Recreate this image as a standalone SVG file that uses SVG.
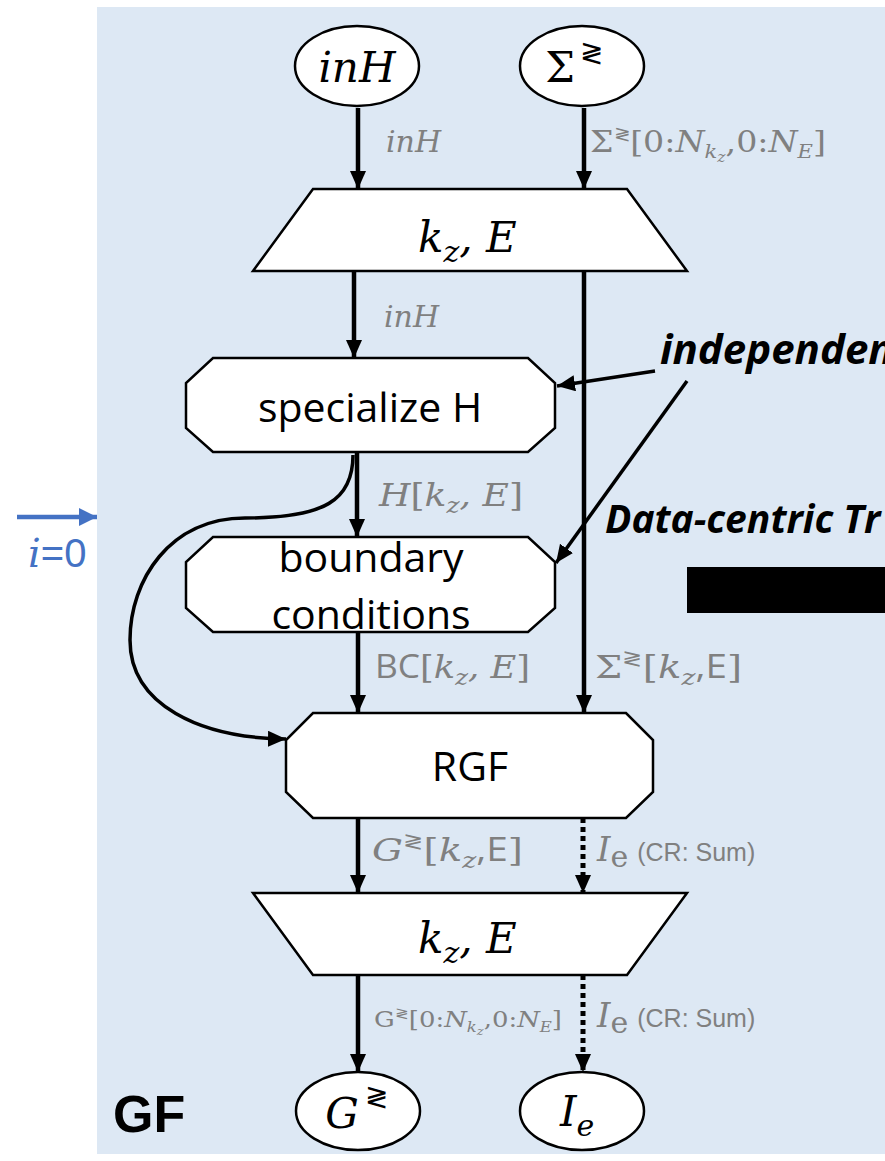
<svg xmlns="http://www.w3.org/2000/svg" width="885" height="1161" viewBox="0 0 885 1161">
<style>
.node{fill:#fff;stroke:#000;stroke-width:2.5}
.conn{fill:none;stroke:#000;stroke-width:4.5}
.dot{fill:none;stroke:#000;stroke-width:5;stroke-dasharray:5 4}
.thin{fill:none;stroke:#000;stroke-width:3.5}
.m{font-family:"DejaVu Serif","Liberation Serif",serif;font-style:italic}
.u{font-family:"DejaVu Serif","Liberation Serif",serif;font-style:normal}
.s{font-family:"Open Sans","Liberation Sans",sans-serif}
.a{font-family:"Liberation Sans",Arial,sans-serif}
.g{fill:#808080}
.k{fill:#000}
</style>
<defs>
<marker id="ah" markerUnits="userSpaceOnUse" markerWidth="20" markerHeight="18" refX="18" refY="8" orient="auto"><path d="M0,0 L18,8 L0,16 z" fill="#000"/></marker>
<marker id="ahb" markerUnits="userSpaceOnUse" markerWidth="20" markerHeight="20" refX="18" refY="9" orient="auto"><path d="M0,0 L18,9 L0,18 z" fill="#4472c4"/></marker>
</defs>
<rect x="97" y="7" width="788" height="1147" fill="#dde8f4"/>

<g id="connectors">
<line class="conn" x1="358" y1="108" x2="358" y2="189" marker-end="url(#ah)"/>
<line class="conn" x1="584" y1="108" x2="584" y2="189" marker-end="url(#ah)"/>
<line class="conn" x1="354" y1="271" x2="354" y2="358" marker-end="url(#ah)"/>
<line class="conn" x1="584" y1="271" x2="584" y2="713" marker-end="url(#ah)"/>
<line class="conn" x1="357" y1="452" x2="357" y2="537" marker-end="url(#ah)"/>
<line class="conn" x1="358" y1="632" x2="358" y2="713" marker-end="url(#ah)"/>
<path class="thin" d="M353,455 C353,500 325,518 245,518 C170,518 130,580 130,640 C130,705 200,738 286,739" marker-end="url(#ah)"/>
<line class="conn" x1="358" y1="818" x2="358" y2="893" marker-end="url(#ah)"/>
<line class="dot" x1="583" y1="818" x2="583" y2="893" marker-end="url(#ah)"/>
<line class="conn" x1="358" y1="975" x2="358" y2="1072" marker-end="url(#ah)"/>
<line class="dot" x1="583" y1="975" x2="583" y2="1072" marker-end="url(#ah)"/>
<line class="thin" x1="655" y1="371" x2="557" y2="386" marker-end="url(#ah)"/>
<line class="thin" x1="687" y1="381" x2="556" y2="563" marker-end="url(#ah)"/>
<line x1="17" y1="517" x2="97" y2="517" stroke="#4472c4" stroke-width="4.5" marker-end="url(#ahb)"/>
</g>

<g id="node-inH">
<ellipse class="node" cx="357" cy="66" rx="62" ry="40"/>
<text class="m" x="357" y="82" font-size="42" text-anchor="middle">inH</text>
</g>
<g id="node-sigma">
<ellipse class="node" cx="582" cy="66" rx="62" ry="40"/>
<text class="u" x="560" y="82" font-size="42" text-anchor="middle">Σ</text>
<text class="u" x="591" y="62" font-size="28" text-anchor="middle">≷</text>
</g>

<g id="node-map-top">
<polygon class="node" points="313,189 627,189 687,271 253,271"/>
<text x="418" y="252" font-size="42"><tspan class="m">k</tspan><tspan class="m" font-size="30" dy="10">z</tspan><tspan class="m" dy="-10">, E</tspan></text>
</g>

<g id="node-specialize">
<polygon class="node" points="213,358 528,358 555,383 555,428 528,452 213,452 186,428 186,383"/>
<text class="s" x="370" y="422" font-size="41" text-anchor="middle">specialize H</text>
</g>

<g id="node-boundary">
<polygon class="node" points="213,537 528,537 555,562 555,608 528,632 213,632 186,608 186,562"/>
<text class="s" x="371" y="572" font-size="41" text-anchor="middle">boundary</text>
<text class="s" x="371" y="629" font-size="41" text-anchor="middle">conditions</text>
</g>

<g id="node-rgf">
<polygon class="node" points="313,713 626,713 653,740 653,792 626,818 313,818 286,792 286,740"/>
<text class="s" x="470" y="781" font-size="41" text-anchor="middle">RGF</text>
</g>

<g id="node-map-bottom">
<polygon class="node" points="253,893 687,893 627,975 313,975"/>
<text x="418" y="953" font-size="42"><tspan class="m">k</tspan><tspan class="m" font-size="30" dy="10">z</tspan><tspan class="m" dy="-10">, E</tspan></text>
</g>

<g id="node-G">
<ellipse class="node" cx="358" cy="1111" rx="62" ry="39"/>
<text class="m" x="342" y="1128" font-size="42" text-anchor="middle">G</text>
<text class="u" x="376" y="1106" font-size="28" text-anchor="middle">≷</text>
</g>
<g id="node-Ie">
<ellipse class="node" cx="582" cy="1111" rx="62" ry="39"/>
<text x="560" y="1126" font-size="42"><tspan class="m">I</tspan><tspan class="m" font-size="30" dy="10">e</tspan></text>
</g>

<g id="labels" class="g">
<text class="m" x="386" y="152" font-size="30">inH</text>
<text x="590" y="152" font-size="30" textLength="236" lengthAdjust="spacingAndGlyphs"><tspan class="u">Σ</tspan><tspan class="u" font-size="18" dy="-12">≷</tspan><tspan class="u" dy="12">[0:</tspan><tspan class="m">N</tspan><tspan class="m" font-size="19" dy="6">k</tspan><tspan class="m" font-size="14" dy="4">z</tspan><tspan class="u" dy="-10">,0:</tspan><tspan class="m">N</tspan><tspan class="m" font-size="19" dy="6">E</tspan><tspan class="u" dy="-6">]</tspan></text>
<text class="m" x="384" y="327" font-size="30">inH</text>
<text x="379" y="506" font-size="32" textLength="144" lengthAdjust="spacingAndGlyphs"><tspan class="m">H</tspan><tspan class="u">[</tspan><tspan class="m">k</tspan><tspan class="m" font-size="22" dy="7">z</tspan><tspan class="m" dy="-7">, E</tspan><tspan class="u">]</tspan></text>
<text x="375" y="678" font-size="32" textLength="155" lengthAdjust="spacingAndGlyphs"><tspan class="s">BC</tspan><tspan class="u">[</tspan><tspan class="m">k</tspan><tspan class="m" font-size="22" dy="7">z</tspan><tspan class="m" dy="-7">, E</tspan><tspan class="u">]</tspan></text>
<text x="595" y="678" font-size="32" textLength="147" lengthAdjust="spacingAndGlyphs"><tspan class="u">Σ</tspan><tspan class="u" font-size="20" dy="-13">≷</tspan><tspan class="u" dy="13">[</tspan><tspan class="m">k</tspan><tspan class="m" font-size="22" dy="7">z</tspan><tspan class="s" dy="-7">,E</tspan><tspan class="u">]</tspan></text>
<text x="372" y="861" font-size="32" textLength="151" lengthAdjust="spacingAndGlyphs"><tspan class="m">G</tspan><tspan class="u" font-size="20" dy="-13">≷</tspan><tspan class="u" dy="13">[</tspan><tspan class="m">k</tspan><tspan class="m" font-size="22" dy="7">z</tspan><tspan class="s" dy="-7">,E</tspan><tspan class="u">]</tspan></text>
<text x="597" y="861" font-size="34"><tspan class="m">I</tspan><tspan class="u" font-size="30" dy="6">e</tspan><tspan class="a" font-size="25" dy="-6" dx="9">(CR: Sum)</tspan></text>
<text x="374" y="1027" font-size="22" textLength="188" lengthAdjust="spacingAndGlyphs"><tspan class="u">G</tspan><tspan class="u" font-size="14" dy="-9">≷</tspan><tspan class="u" dy="9">[0:</tspan><tspan class="m">N</tspan><tspan class="m" font-size="14" dy="5">k</tspan><tspan class="m" font-size="11" dy="3">z</tspan><tspan class="u" dy="-8">,0:</tspan><tspan class="m">N</tspan><tspan class="m" font-size="14" dy="5">E</tspan><tspan class="u" dy="-5">]</tspan></text>
<text x="597" y="1027" font-size="34"><tspan class="m">I</tspan><tspan class="u" font-size="30" dy="6">e</tspan><tspan class="a" font-size="25" dy="-6" dx="9">(CR: Sum)</tspan></text>
</g>

<g id="annotations">
<text x="660" y="364" font-size="42" font-weight="bold" font-style="italic" class="s k">independent</text>
<text x="605" y="533" font-size="39" font-weight="bold" font-style="italic" class="s k">Data-centric Tr</text>
<rect x="687" y="567" width="198" height="46" fill="#000"/>
<text x="113" y="1132" font-size="52" font-weight="bold" class="a k">GF</text>
<text x="28" y="567" font-size="40" fill="#4472c4"><tspan class="m">i</tspan><tspan class="a">=0</tspan></text>
</g>
</svg>
